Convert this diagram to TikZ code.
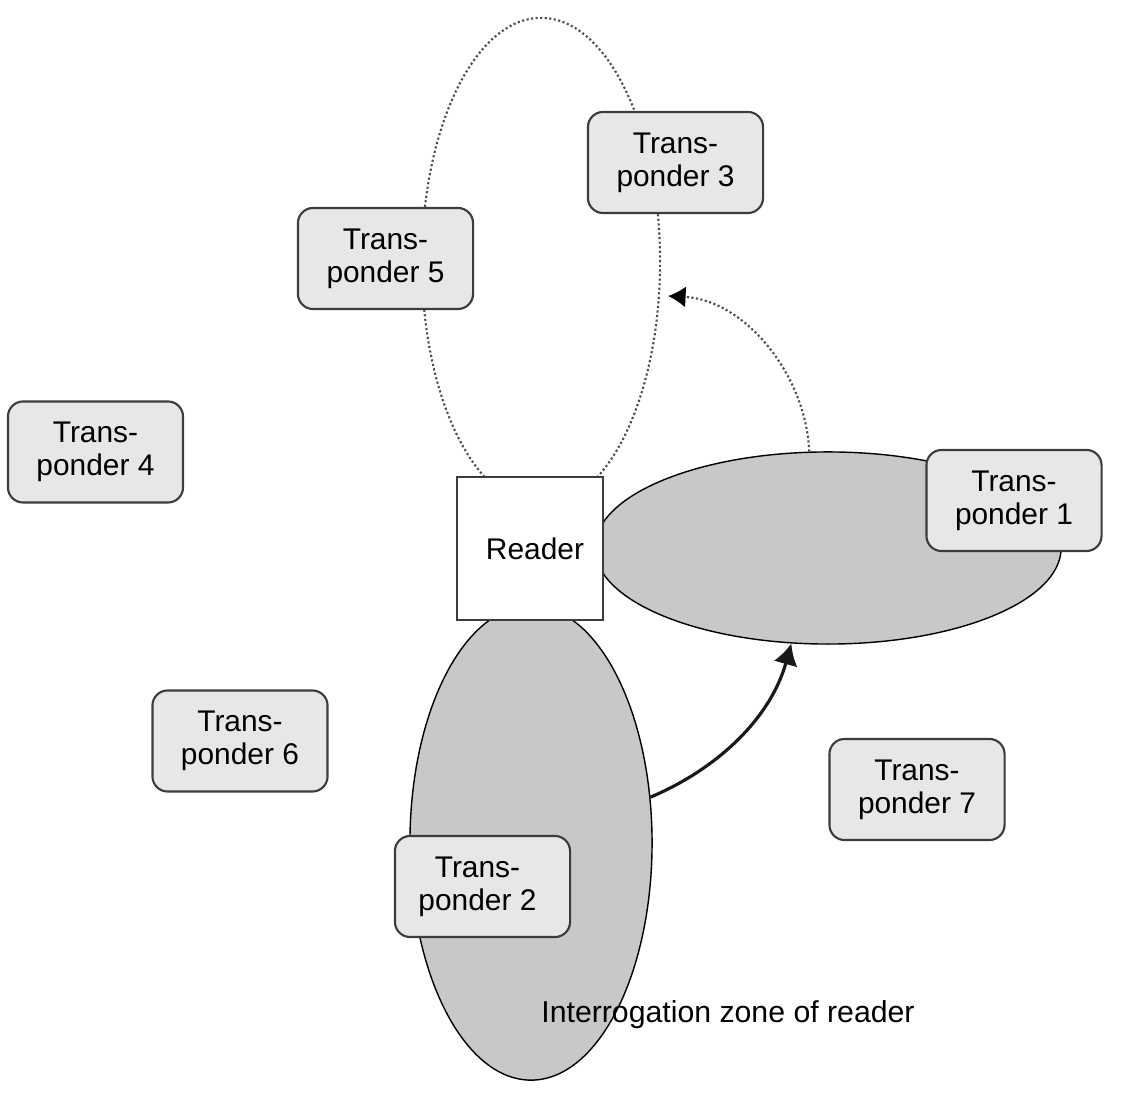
\documentclass[tikz,border=0pt]{standalone}
\usepackage{fontspec}
\setmainfont{Liberation Sans}
\usetikzlibrary{arrows.meta,shapes.geometric}
\definecolor{boxgray}{RGB}{230,231,232}
\definecolor{zonegray}{RGB}{200,200,202}
\definecolor{edgegray}{RGB}{60,60,60}
\begin{document}
\begin{tikzpicture}[x=0.01cm,y=-0.01cm,
  tbox/.style={draw=edgegray, line width=0.6pt, fill=boxgray, rounded corners=4.3pt,
    minimum width=1.75cm, minimum height=1.01cm, align=center, inner sep=0pt,
    font=\fontsize{8.5}{9.4}\selectfont},
  zone/.style={ellipse, draw=black, line width=0.4pt, fill=zonegray, inner sep=0pt},
  loopline/.style={draw=black!70, line width=0.6pt, dash pattern=on 0.6pt off 0.7pt},
  readerbox/.style={draw=edgegray, line width=0.7pt, fill=white, minimum width=1.46cm,
    minimum height=1.43cm, inner sep=0pt, font=\fontsize{8.5}{9.4}\selectfont},
  solidarrow/.style={draw=black!90, line width=0.9pt, -{Latex[length=6pt,width=7pt]}},
  dottedarrow/.style={loopline, -{Latex[length=5pt,width=6pt,black,fill=black,sep=0pt]}}
]
\useasboundingbox (0,0) rectangle (1148,1098);
% dotted loop
\node[ellipse, loopline, minimum width=2.38cm, minimum height=4.88cm, inner sep=0pt] (loop) at (541,262) {};
% interrogation zones
\node[zone, minimum width=4.66cm, minimum height=1.92cm] (zone1) at (828,548) {};
\node[zone, minimum width=2.42cm, minimum height=4.74cm] (zone2) at (531,843) {};
% reader
\node[readerbox] (reader) at (530,548.5) {\hspace*{0.1cm}Reader};
% transponders
\node[tbox] (t3) at (675.5,162.5) {Trans-\\ponder 3};
\node[tbox] (t5) at (385.5,258.5) {Trans-\\ponder 5};
\node[tbox] (t4) at (95.5,452) {Trans-\\ponder 4};
\node[tbox] (t1) at (1014,500.5) {Trans-\\ponder 1};
\node[tbox] (t6) at (240,741) {Trans-\\ponder 6};
\node[tbox] (t7) at (917,789.5) {Trans-\\ponder 7};
\node[tbox] (t2) at (482.5,886.5) {\hspace*{-0.1cm}Trans-\\\hspace*{-0.1cm}ponder 2};
% arrows
\coordinate (tip) at (668,296);
\draw[dottedarrow] (zone1.101) .. controls (806,375) and (745,300) .. (tip);
\draw[solidarrow] (zone2.21) .. controls (715,770) and (770,720) .. (zone1.249);
% label
\node[font=\fontsize{8.6}{9.4}\selectfont, inner sep=0pt] (zlabel) at (728,1015) {Interrogation zone of reader};
\end{tikzpicture}
\end{document}
